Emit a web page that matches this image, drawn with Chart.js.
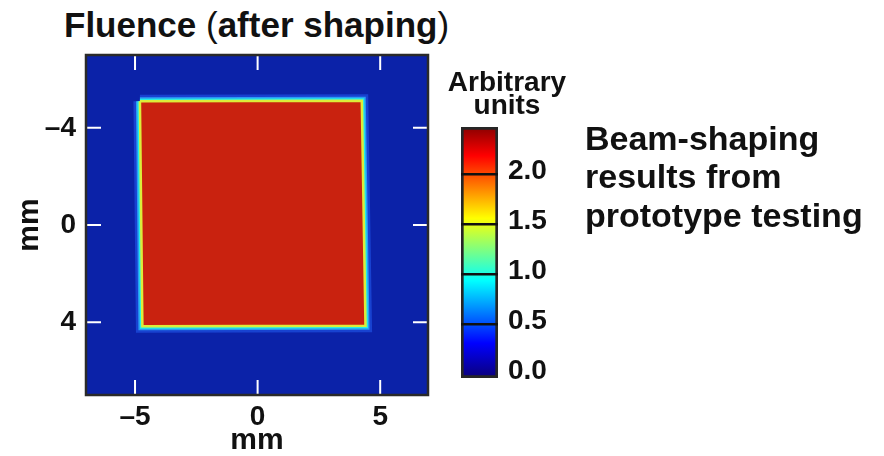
<!DOCTYPE html>
<html>
<head>
<meta charset="utf-8">
<script src="https://cdn.jsdelivr.net/npm/chart.js@4.4.0/dist/chart.umd.min.js"></script>
<style>
  body { margin: 0; background: #fff; width: 884px; height: 456px; position: relative; overflow: hidden;
         font-family: "Liberation Sans", Arial, Helvetica, sans-serif; color: #111; }
  canvas { position: absolute; top: 0; }
  #fluence { left: 0; }
  #scale { left: 440px; }
  .txt { position: absolute; font-weight: bold; white-space: nowrap; }
  #title { left: 64px; top: 5px; font-size: 35px; line-height: 40px; }
  #title .thin { font-weight: normal; }
  #units { left: 437px; top: 69.5px; width: 140px; text-align: center; font-size: 28px; line-height: 23px; }
  #note { left: 585px; top: 119px; font-size: 34px; line-height: 38.3px; }
</style>
</head>
<body>
<div id="title" class="txt">Fluence <span class="thin">(</span>after shaping<span class="thin">)</span></div>
<canvas id="fluence" width="450" height="456"></canvas>
<canvas id="scale" width="150" height="456"></canvas>
<div id="units" class="txt">Arbitrary<br>units</div>
<div id="note" class="txt">Beam-shaping<br>results from<br>prototype testing</div>
<script>
// axes, mm
const xRange = [-7, 6.95];
const yRange = [-7, 7];
const xTicks = [-5, 0, 5];
const yTicks = [-4, 0, 4];

// measured field and the shaped flat-top square (corner points, mm)
const fieldCorners = [[-7, -7], [7, -7], [7, 7], [-7, 7], [-7, -7]];
const beamCorners = [[-4.8, -5.1], [4.25, -5.12], [4.4, 4.15], [-4.7, 4.17], [-4.8, -5.1]];

// colour bar, arbitrary units
const cbRange = [-0.035, 2.475];
const cbTicks = [0, 0.5, 1.0, 1.5, 2.0];
const cbTop = 2.5;
const jetStops = [[0, '#0a0086'], [0.125, '#0000ff'], [0.375, '#00ffff'], [0.625, '#ffff00'], [0.875, '#ff0000'], [1, '#800000']];

const boldFont = { family: '"Liberation Sans", Arial, Helvetica, sans-serif', weight: 'bold', size: 28 };
const toPts = arr => arr.map(p => ({ x: p[0], y: p[1] }));
const dashNum = v => v < 0 ? '\u2013' + Math.abs(v) : String(v);

const frame = {
  id: 'frame',
  afterDraw(chart) {
    const { ctx, chartArea: a, scales } = chart;
    ctx.save();
    ctx.strokeStyle = '#fff';
    ctx.lineWidth = 2;
    ctx.beginPath();
    scales.x.ticks.forEach(t => {
      const px = scales.x.getPixelForValue(t.value);
      ctx.moveTo(px, a.top); ctx.lineTo(px, a.top + 15);
      ctx.moveTo(px, a.bottom); ctx.lineTo(px, a.bottom - 15);
    });
    scales.y.ticks.forEach(t => {
      const py = scales.y.getPixelForValue(t.value);
      ctx.moveTo(a.left, py); ctx.lineTo(a.left + 15, py);
      ctx.moveTo(a.right, py); ctx.lineTo(a.right - 15, py);
    });
    ctx.stroke();
    ctx.strokeStyle = '#2a2a2a';
    ctx.lineWidth = 2.5;
    ctx.strokeRect(a.left, a.top, a.right - a.left, a.bottom - a.top);
    ctx.restore();
  }
};

const shapeSet = (pts, extra) => Object.assign({
  data: toPts(pts), showLine: true, pointRadius: 0, tension: 0,
  borderJoinStyle: 'miter', fill: false
}, extra);

new Chart(document.getElementById('fluence'), {
  type: 'scatter',
  data: {
    datasets: [
      shapeSet(fieldCorners, { fill: 'shape', backgroundColor: '#0b22a8', borderWidth: 0, order: 5 }),
      shapeSet(beamCorners, { borderColor: 'rgba(30,80,225,0.7)', borderWidth: 13, order: 4 }),
      shapeSet(beamCorners, { borderColor: '#2a9cf4', borderWidth: 8, order: 3 }),
      shapeSet(beamCorners, { borderColor: '#22f0e6', borderWidth: 5, order: 2 }),
      shapeSet(beamCorners, { fill: 'shape', backgroundColor: '#c9220f', borderColor: '#dcec3a', borderWidth: 2.5, order: 1 })
    ]
  },
  options: {
    responsive: false,
    animation: false,
    layout: { padding: { top: 55, right: 22, left: 0, bottom: 0 } },
    plugins: { legend: { display: false }, tooltip: { enabled: false } },
    scales: {
      x: {
        type: 'linear', min: xRange[0], max: xRange[1],
        grid: { display: false, drawTicks: false }, border: { display: false },
        afterBuildTicks: s => { s.ticks = xTicks.map(v => ({ value: v })); },
        afterFit: s => { s.height = 61; },
        ticks: { font: boldFont, color: '#111', padding: 5, callback: dashNum },
        title: { display: true, text: 'mm', color: '#111', font: Object.assign({}, boldFont, { size: 30, lineHeight: 1 }), padding: 0 }
      },
      y: {
        type: 'linear', reverse: true, min: yRange[0], max: yRange[1],
        grid: { display: false, drawTicks: false }, border: { display: false },
        afterBuildTicks: s => { s.ticks = yTicks.map(v => ({ value: v })); },
        afterFit: s => { s.width = 86; },
        ticks: { font: boldFont, color: '#111', padding: 10, callback: dashNum },
        title: { display: true, text: 'mm', color: '#111', font: Object.assign({}, boldFont, { size: 30, lineHeight: 1 }), padding: { top: 15, bottom: 0 } }
      }
    }
  },
  plugins: [frame]
});

new Chart(document.getElementById('scale'), {
  type: 'bar',
  data: {
    labels: [''],
    datasets: [{
      data: [cbRange],
      backgroundColor: c => {
        const ch = c.chart;
        if (!ch.chartArea) return '#0000ff';
        const ys = ch.scales.y;
        const g = ch.ctx.createLinearGradient(0, ys.getPixelForValue(0), 0, ys.getPixelForValue(cbTop));
        jetStops.forEach(s => g.addColorStop(s[0], s[1]));
        return g;
      },
      borderColor: '#262626', borderWidth: 3, borderSkipped: false,
      barPercentage: 1, categoryPercentage: 1
    }]
  },
  options: {
    responsive: false,
    animation: false,
    layout: { padding: { top: 127, left: 21, bottom: 78, right: 0 } },
    plugins: { legend: { display: false }, tooltip: { enabled: false } },
    scales: {
      x: { display: false },
      y: {
        position: 'right', min: cbRange[0], max: cbRange[1],
        border: { display: false },
        grid: { z: 1, drawTicks: false, lineWidth: 2.5, color: c => c.tick && c.tick.value === 0 ? 'rgba(0,0,0,0)' : '#111' },
        afterBuildTicks: s => { s.ticks = cbTicks.map(v => ({ value: v })); },
        afterFit: s => { s.width = 92; },
        ticks: { font: boldFont, color: '#111', padding: 10, labelOffset: -3, callback: v => v.toFixed(1) }
      }
    }
  }
});
</script>
</body>
</html>
